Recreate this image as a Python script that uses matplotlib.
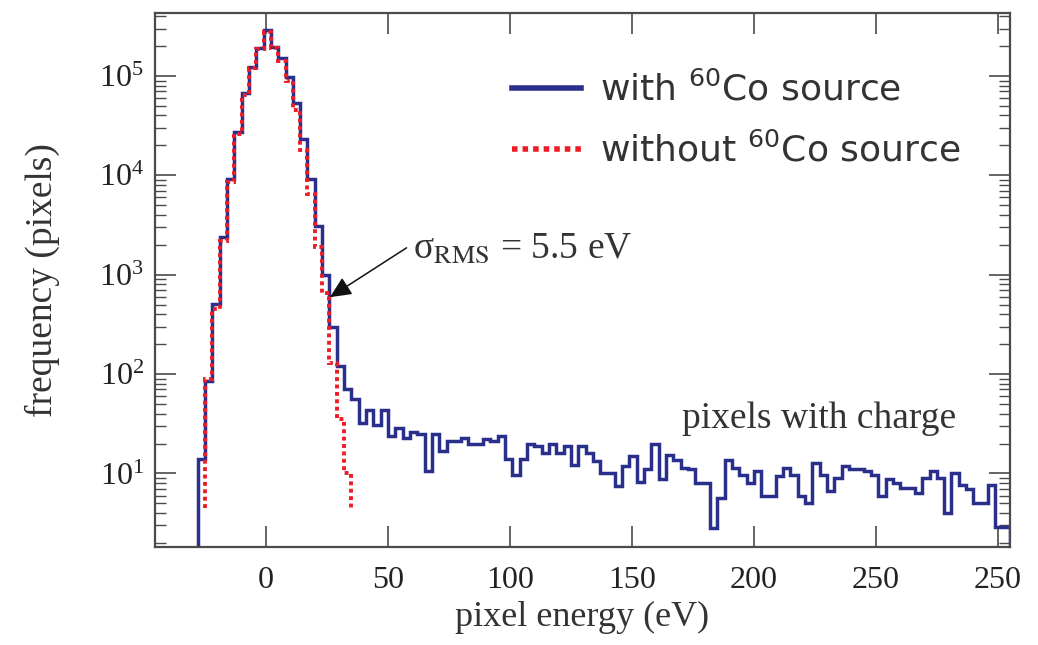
import numpy as np
import matplotlib
matplotlib.use("Agg")
import matplotlib.pyplot as plt
from matplotlib.font_manager import FontProperties
from matplotlib.ticker import LogLocator, LogFormatterMathtext, FixedLocator

plt.rcParams['font.family'] = ['Liberation Serif', 'DejaVu Serif']

# histogram binning (eV), 3 eV bins
blue_edges = np.arange(-28, 306, 3)
red_edges = np.arange(-25, 36, 3)

# pixel counts with the 60Co source in place
with_source = [
    14, 86, 510, 2400, 9100, 27000, 67000, 124000, 190000, 290000,
    197000, 150000, 98000, 53000, 23000, 9100, 3100, 1000, 300, 122,
    71, 56, 32, 44, 31, 44, 24, 29, 23, 26,
    25, 10.5, 25, 17, 21, 21, 23, 20, 20, 22,
    21, 24, 14, 9.7, 14, 19.6, 19, 16, 19.6, 16,
    19, 12.3, 18.8, 16, 13.3, 10.1, 10.1, 7.4, 11.8, 14.9,
    8.3, 11, 19.6, 8.7, 15.5, 13.8, 11.4, 11, 8.0, 8.0,
    2.8, 5.6, 13.8, 11.4, 9.7, 8.0, 10.5, 5.9, 5.9, 9.4,
    11.4, 9.7, 5.9, 5.0, 12.8, 9.7, 6.6, 9.0, 11.8, 11,
    11, 10.5, 9.7, 5.9, 8.7, 8.0, 7.1, 7.1, 6.4, 9.0,
    10.5, 9.0, 4.0, 10.1, 7.7, 6.9, 5.0, 5.0, 7.7, 2.9,
    2.9,
]

# pixel counts without the source (noise only)
without_source = [
    90, 450, 2200, 8500, 26000, 65000, 120000, 185000, 280000, 190000,
    140000, 90000, 45000, 18000, 6500, 1900, 650, 130, 35, 10,
]
without_floor = 4.5

xticks = [0, 50, 100, 150, 200, 250, 300]
xtick_labels = ['0', '50', '100', '150', '200', '250', '250']

blue = '#2a2f8c'
red = '#ee1c24'
txt = '#333333'
frame = '#4a4a4a'

fig = plt.figure(figsize=(10.38, 6.45), dpi=100)
ax = fig.add_axes([155 / 1038, 1 - 547 / 645, (1010 - 155) / 1038, (547 - 13) / 645])

ax.stairs(with_source, blue_edges, baseline=1.0, color=blue, lw=2.5,
          label='with $^{60}$Co source', zorder=2)
ax.stairs(without_source, red_edges, baseline=without_floor, color=red, lw=2.8,
          linestyle=(0, (1, 0.9)), label='without $^{60}$Co source', zorder=3)

ax.set_yscale('log')
ax.set_xlim(-45.5, 305)
ax.set_ylim(1.82, 4.3e5)

ax.xaxis.set_major_locator(FixedLocator(xticks))
ax.set_xticklabels(xtick_labels)
ax.yaxis.set_major_locator(LogLocator(base=10, numticks=10))
ax.yaxis.set_minor_locator(LogLocator(base=10, subs=np.arange(2, 10), numticks=20))
ax.yaxis.set_major_formatter(LogFormatterMathtext())

for s in ax.spines.values():
    s.set_linewidth(1.6)
    s.set_color(frame)

ax.tick_params(axis='both', which='both', direction='in', top=True, right=True,
               colors=frame, labelcolor='#222222')
ax.tick_params(which='major', length=15, width=1.2, labelsize=23)
ax.tick_params(axis='x', which='major', pad=14)
ax.tick_params(axis='y', which='major', pad=8)
ax.tick_params(which='minor', length=8, width=1.0)

ax.set_xlabel('pixel energy (eV)', fontsize=26, color=txt, labelpad=4)
ax.set_ylabel('frequency (pixels)', fontsize=27, color=txt, labelpad=28)

ax.annotate('σ$_{\\mathrm{RMS}}$ = 5.5 eV', xy=(26.2, 594), xytext=(60.2, 1466),
            fontsize=27, color=txt, ha='left', va='baseline', math_fontfamily='stix',
            arrowprops=dict(arrowstyle='-|>,head_length=0.65,head_width=0.3',
                            mutation_scale=20, color='#111111', lw=1.1,
                            relpos=(0.0, 0.65), shrinkA=3, shrinkB=0))

ax.text(170.5, 28.5, 'pixels with charge', fontsize=27, color=txt,
        ha='left', va='baseline')

leg_font = FontProperties(family='DejaVu Sans', size=26, math_fontfamily='dejavusans')
leg = ax.legend(loc='upper left', bbox_to_anchor=(512 / 1038, 1 - 71 / 645),
                bbox_transform=fig.transFigure, frameon=False, prop=leg_font,
                handlelength=1.9, handletextpad=0.55, labelspacing=0.7,
                borderpad=0, borderaxespad=0)
for t in leg.get_texts():
    t.set_color(txt)
for h in leg.get_lines():
    h.set_linewidth(4)

fig.savefig('out.png', dpi=100)
